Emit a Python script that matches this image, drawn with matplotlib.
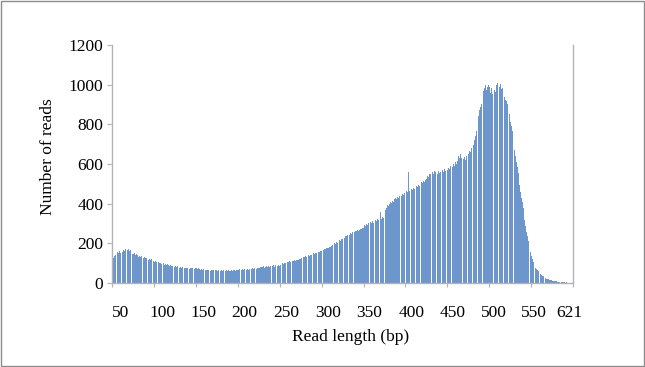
import matplotlib
matplotlib.use("Agg")
import matplotlib.pyplot as plt
from matplotlib.patches import Rectangle
import numpy as np

# read counts, one bar per read length (25 per row)
counts = [
    78, 128, 136, 142, 150, 146, 155, 150, 160, 152, 158, 163, 155, 166, 160, 170, 175, 178, 168, 172, 162, 165, 155, 150, 148,
    145, 150, 141, 144, 137, 140, 133, 138, 130, 134, 128, 132, 126, 130, 124, 127, 121, 125, 118, 122, 116, 119, 113, 117, 111,
    108, 112, 104, 107, 101, 105, 99, 103, 97, 100, 95, 99, 93, 97, 91, 94, 89, 93, 87, 90, 86, 88, 83, 87, 82,
    85, 80, 84, 79, 82, 78, 81, 77, 80, 76, 79, 75, 78, 74, 77, 73, 76, 72, 77, 74, 78, 73, 76, 72, 75,
    74, 70, 75, 69, 73, 68, 72, 66, 70, 65, 69, 64, 68, 63, 67, 65, 69, 62, 66, 64, 68, 61, 65, 63, 67,
    62, 66, 60, 65, 61, 64, 59, 63, 62, 66, 60, 64, 61, 65, 59, 63, 62, 67, 60, 64, 63, 66, 61, 65, 64,
    66, 70, 63, 68, 65, 71, 64, 69, 67, 72, 66, 70, 68, 73, 67, 72, 70, 75, 69, 74, 72, 77, 71, 76, 74,
    78, 82, 76, 81, 79, 84, 78, 83, 80, 85, 79, 86, 82, 87, 81, 88, 84, 89, 83, 90, 86, 91, 85, 92, 88,
    90, 95, 93, 99, 96, 102, 99, 105, 101, 107, 104, 109, 106, 111, 108, 113, 110, 115, 112, 117, 114, 118, 116, 121, 119,
    124, 128, 126, 131, 129, 134, 132, 137, 135, 140, 138, 143, 141, 146, 144, 149, 147, 152, 150, 155, 153, 158, 156, 161, 160,
    163, 168, 166, 172, 170, 176, 174, 180, 178, 184, 181, 188, 190, 195, 193, 200, 198, 205, 203, 210, 208, 216, 213, 222, 220,
    226, 233, 229, 238, 235, 241, 238, 245, 243, 250, 247, 255, 252, 259, 256, 263, 260, 266, 263, 270, 267, 274, 271, 279, 276,
    282, 290, 286, 296, 292, 300, 352, 298, 306, 302, 311, 305, 314, 309, 318, 312, 322, 316, 326, 320, 358, 324, 334, 330, 346,
    352, 366, 380, 392, 386, 400, 394, 408, 402, 415, 410, 422, 416, 430, 424, 436, 430, 440, 434, 445, 438, 448, 442, 452, 446,
    456, 462, 458, 558, 464, 470, 466, 474, 470, 478, 473, 482, 478, 488, 484, 494, 489, 500, 496, 507, 502, 513, 508, 518, 512,
    526, 540, 535, 552, 548, 570, 556, 562, 551, 566, 558, 574, 560, 552, 566, 557, 561, 570, 555, 568, 560, 574, 563, 578, 567,
    572, 580, 575, 588, 580, 594, 585, 598, 590, 610, 600, 622, 615, 640, 628, 650, 632, 618, 640, 625, 636, 622, 640, 630, 645,
    652, 668, 660, 682, 676, 700, 694, 720, 740, 765, 780, 810, 840, 870, 888, 905, 930, 950, 968, 985, 1000, 975, 990, 970, 998,
    990, 960, 985, 955, 970, 950, 975, 965, 1000, 1010, 1034, 1020, 990, 1005, 978, 985, 960, 955, 940, 925, 920, 900, 880, 872, 850,
    810, 790, 765, 740, 705, 670, 640, 610, 585, 555, 525, 495, 460, 430, 410, 380, 350, 318, 285, 255, 235, 210, 190, 170, 155,
    138, 120, 105, 95, 85, 78, 72, 66, 60, 55, 50, 45, 40, 36, 33, 30, 27, 24, 22, 20, 18, 17, 15, 14, 13,
    12, 11, 10, 9, 8, 8, 7, 6, 6, 5, 5, 4, 4, 4, 3, 3, 3, 3, 2, 2, 2, 2, 2, 1, 1,
]

x_labels = ["50", "100", "150", "200", "250", "300", "350", "400", "450", "500", "550", "621"]
y_ticks = [0, 200, 400, 600, 800, 1000, 1200]

GRAY = "#b3b3b3"


def main() -> None:
    plt.rcParams["font.family"] = ["Liberation Serif", "DejaVu Serif"]

    fig = plt.figure(figsize=(6.45, 3.67), dpi=100)
    ax = fig.add_axes([0.1741, 0.2289, 0.7143, 0.6485])

    pos = np.arange(len(counts))
    ax.bar(pos, counts, width=0.85, color="#6d96cd", linewidth=0)

    ax.set_xlim(-0.5, len(counts) - 0.5)
    ax.set_ylim(0, 1200)

    # category axis: tick marks every 50 bars, labels sit a little right of the marks
    ax.set_xticks(np.arange(-0.5, len(counts), 50))
    ax.set_xticklabels([])
    label_pos = [9, 59, 108, 157, 207, 257, 306, 357, 406, 455, 503, 545]
    ax.set_xticks(label_pos, minor=True)
    ax.set_xticklabels(x_labels, minor=True, fontsize=12.5)
    ax.tick_params(axis="x", which="major", direction="out", length=3, color=GRAY)
    ax.tick_params(axis="x", which="minor", length=0, pad=16)

    ax.set_yticks(y_ticks)
    ax.set_yticklabels([str(v) for v in y_ticks], fontsize=12.5)
    ax.tick_params(axis="y", direction="out", length=3.5, color=GRAY, pad=3)

    for side in ("left", "bottom", "right"):
        ax.spines[side].set_color(GRAY)
        ax.spines[side].set_linewidth(1.0)
    ax.spines["top"].set_visible(False)

    ax.set_xlabel("Read length (bp)", fontsize=12.5)
    ax.xaxis.set_label_coords(0.518, -0.227)
    ax.xaxis.label.set_va("center")
    ax.set_ylabel("Number of reads", fontsize=12.5)
    ax.yaxis.set_label_coords(-0.139, 0.53)
    ax.yaxis.label.set_va("center")

    # thin frame around the whole picture
    fig.patches.append(Rectangle((0.001, 0.002), 0.997, 0.996, transform=fig.transFigure,
                                 fill=False, edgecolor="#8c8c8c", linewidth=1.0))

    fig.savefig("out.png", dpi=100)
    plt.close(fig)


if __name__ == "__main__":
    main()
